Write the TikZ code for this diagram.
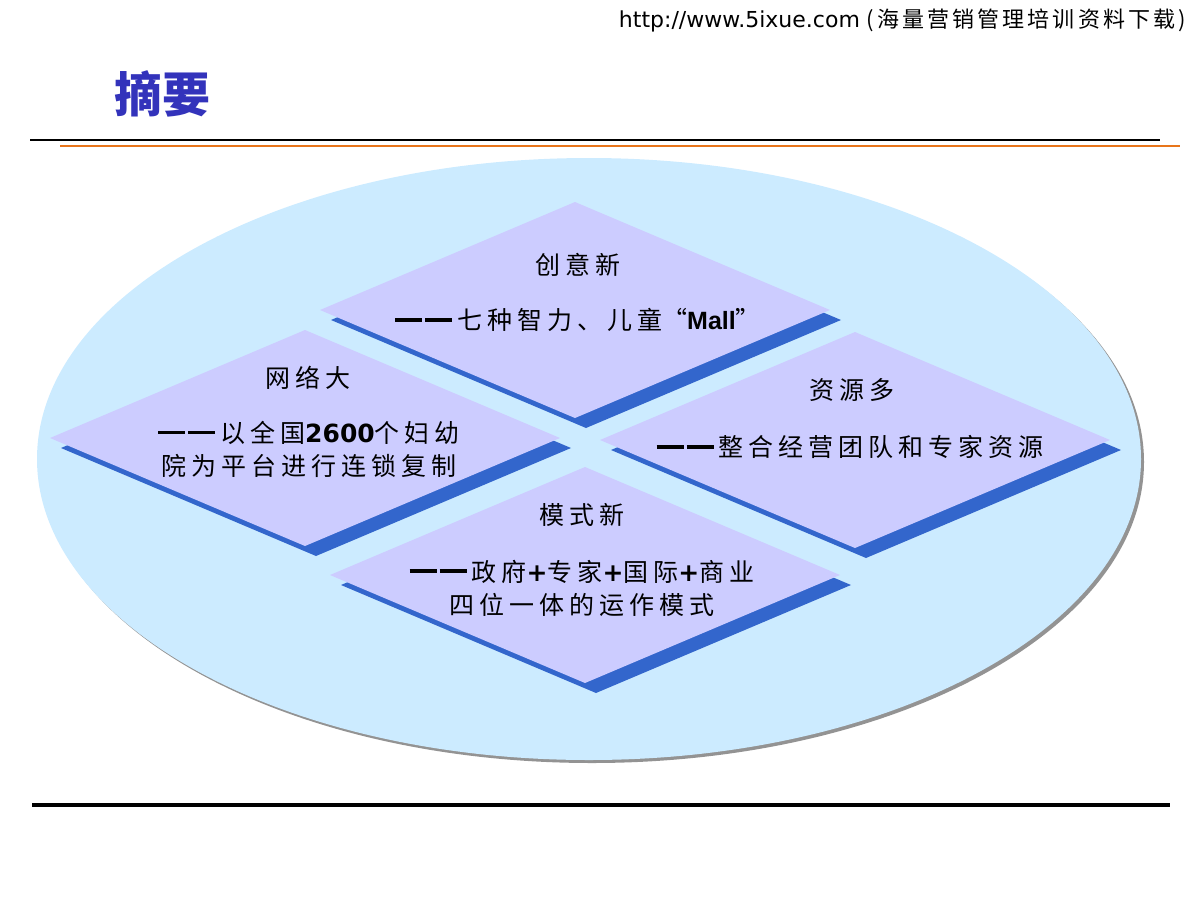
\documentclass[tikz,border=0pt]{standalone}
\usepackage{fontspec}
\setmainfont{DejaVu Sans}
\newfontfamily\cjk{Noto Sans CJK SC}[LetterSpace=20]
\newfontfamily\cjkhead{Noto Sans CJK SC}[LetterSpace=14]
\newfontfamily\cjktitle{Noto Sans CJK SC}
\newfontfamily\arialb{Liberation Sans}
\newcommand\dashpair{\rule[8pt]{27pt}{3.6pt}\hspace{3pt}\rule[8pt]{27pt}{3.6pt}\hspace{5pt}}
\definecolor{skyfill}{HTML}{CCEBFF}
\definecolor{lilac}{HTML}{CCCCFF}
\definecolor{deepblue}{HTML}{3366CC}
\definecolor{titleblue}{HTML}{3333BB}
\definecolor{ruleorange}{HTML}{E8751A}
\tikzset{
  face/.style={fill=lilac},
  drop/.style={fill=deepblue},
  head/.style={inner sep=0pt, font=\fontsize{25}{30}\selectfont\cjk},
  body/.style={inner sep=0pt, align=center, font=\fontsize{25}{33}\selectfont\cjk},
}
\begin{document}
\begin{tikzpicture}[x=1pt,y=-1pt]
        \useasboundingbox (0,0) rectangle (1200,900);
        % header
        \node[inner sep=0pt, anchor=east] (web) at (1186,20)
          {\fontsize{22}{26}\selectfont http://www.5ixue.com {\cjkhead (海量营销管理培训资料下载)}};
        \node[inner sep=0pt, text=titleblue] (title) at (162,94)
          {\fontsize{48}{52}\selectfont\cjktitle\bfseries 摘要};
        \draw[line width=2pt] (30,140) -- (1160,140);
        \draw[ruleorange, line width=2pt] (60,145.5) -- (1180,145.5);
        \draw[line width=4pt] (32,805) -- (1170,805);
        % ellipse
        \fill[gray!85] (592,462) ellipse (552 and 301);
        \fill[skyfill] (589,459) ellipse (552 and 301);
        % diamond top
        \fill[drop] (586,212) -- (841,320) -- (586,428) -- (331,320) -- cycle;
        \fill[face] (575,202) -- (830,310) -- (575,418) -- (320,310) -- cycle;
        % diamond left
        \fill[drop] (316,340) -- (571,448) -- (316,556) -- (61,448) -- cycle;
        \fill[face] (305,330) -- (560,438) -- (305,546) -- (50,438) -- cycle;
        % diamond right
        \fill[drop] (866,342) -- (1121,450) -- (866,558) -- (611,450) -- cycle;
        \fill[face] (855,332) -- (1110,440) -- (855,548) -- (600,440) -- cycle;
        % diamond bottom
        \fill[drop] (596,477) -- (851,585) -- (596,693) -- (341,585) -- cycle;
        \fill[face] (585,467) -- (840,575) -- (585,683) -- (330,575) -- cycle;
        % texts
        \node[head] (ideahead) at (578,265) {创意新};
        \node[body] (ideabody) at (578,320)
          {\dashpair 七种智力、儿童{\cjktitle “}{\arialb\bfseries Mall}{\cjktitle ”}};
        \node[head] (nethead) at (308,378) {网络大};
        \node[body] (netbody) at (309,449)
          {\dashpair 以全国{\rmfamily\bfseries 2600}个妇幼\\院为平台进行连锁复制};
        \node[head] (reshead) at (852,390) {资源多};
        \node[body] (resbody) at (850,447) {\dashpair 整合经营团队和专家资源};
        \node[head] (modehead) at (582,515) {模式新};
        \node[body] (modebody) at (582,588)
          {\dashpair 政府{\rmfamily\bfseries +}专家{\rmfamily\bfseries +}国际{\rmfamily\bfseries +}商业\\四位一体的运作模式};
      \end{tikzpicture}
\end{document}
